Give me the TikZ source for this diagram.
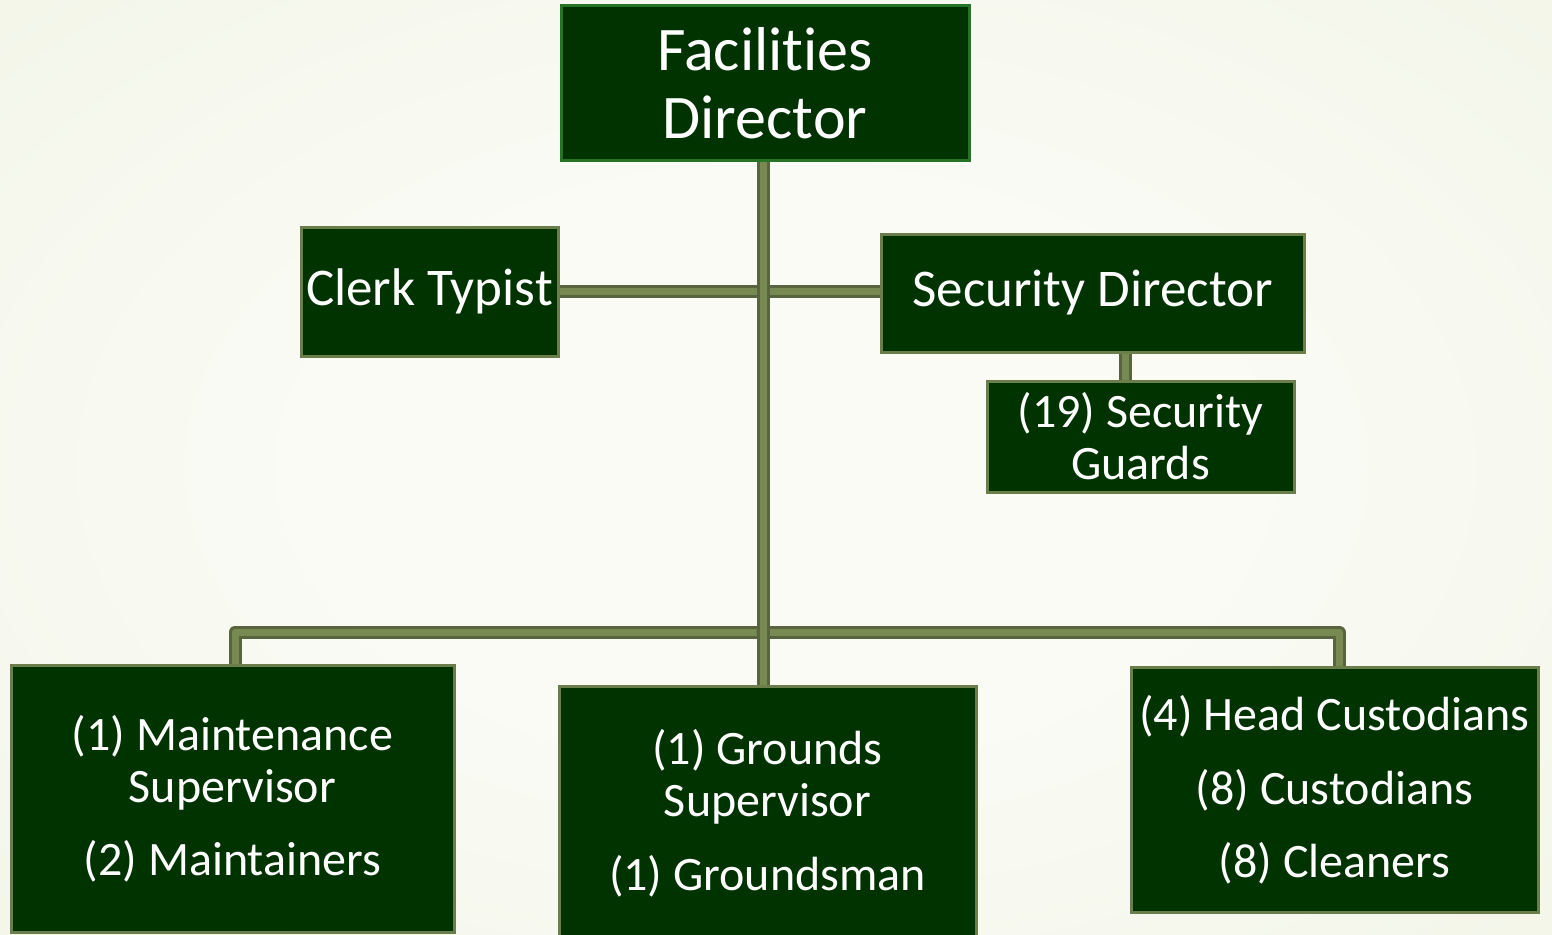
\documentclass[tikz,border=0pt]{standalone}
\usepackage{fontspec}
\setmainfont{Carlito}[Ligatures=NoCommon]
\pgfdeclarelayer{bg}
\pgfdeclarelayer{connlayer}
\pgfsetlayers{bg,connlayer,main}
\definecolor{boxfill}{HTML}{003300}
\definecolor{boxline}{HTML}{6B7D4B}
\definecolor{topline}{HTML}{267326}
\definecolor{connout}{HTML}{57643E}
\definecolor{connin}{HTML}{768A52}
\definecolor{bgin}{HTML}{FAFBF5}
\definecolor{bgmid}{HTML}{F6F8EE}
\definecolor{bgout}{HTML}{E3EACE}
\pgfdeclareradialshading{bgshade}{\pgfpoint{0bp}{0bp}}{color(0bp)=(bgin); color(10bp)=(bgin); color(20bp)=(bgmid); color(50bp)=(bgout); color(60bp)=(bgout)}
\tikzset{
  orgbox/.style={draw=boxline, line width=3pt, fill=boxfill, text=white,
    align=center, inner sep=0pt, anchor=center},
  conn/.style={draw=connout, line width=3pt, double=connin, double distance=7pt,
    line join=round, line cap=round},
  bigfont/.style={font=\fontsize{62}{68}\selectfont},
  midfont/.style={font=\fontsize{53}{58}\selectfont},
  smallfont/.style={font=\fontsize{48}{52}\selectfont},
}
\begin{document}
\begin{tikzpicture}[x=1pt,y=-1pt]
\useasboundingbox (0,0) rectangle (1552,934);
\clip (0,0) rectangle (1552,934);
\begin{pgfonlayer}{bg}
\shade[shading=bgshade] (-300,-190) rectangle (1852,1124);
\end{pgfonlayer}

\node[orgbox, draw=topline, bigfont, minimum width=408pt, minimum height=154pt] (fd) at (765,83) {Facilities\\Director};
\node[orgbox, midfont, minimum width=257pt, minimum height=129pt] (ct) at (429.5,291.5) {Clerk Typist};
\node[orgbox, midfont, minimum width=423pt, minimum height=118pt] (sd) at (1092.5,293) {Security Director};
\node[orgbox, smallfont, minimum width=307pt, minimum height=111pt] (gd) at (1140.5,436.5) {(19) Security\\Guards};
\node[orgbox, smallfont, minimum width=443pt, minimum height=267pt] (ms) at (232.5,798.5) {(1) Maintenance\\Supervisor\\[21pt](2) Maintainers};
\node[orgbox, smallfont, minimum width=417pt, minimum height=254pt] (gs) at (767.5,813) {(1) Grounds\\Supervisor\\[22pt](1) Groundsman};
\node[orgbox, smallfont, minimum width=407pt, minimum height=245pt] (rc) at (1334.5,789.5) {(4) Head Custodians\\[22pt](8) Custodians\\[21pt](8) Cleaners};

\coordinate (trunk) at (763,160);
\coordinate (bus) at (763,632);
\begin{pgfonlayer}{connlayer}
\draw[conn] (trunk) |- ([yshift=0.5pt]ct.east);
\draw[conn] (trunk) |- ([yshift=2pt]sd.west);
\draw[conn] (bus) -| ([xshift=2.5pt]ms.north);
\draw[conn] (bus) -| ([xshift=4.5pt]rc.north);
\draw[conn] (trunk) -- (trunk |- gs.north);
\draw[conn] ([xshift=32.5pt]sd.south) -- ([xshift=32.5pt]sd.south |- gd.north);
\end{pgfonlayer}
\end{tikzpicture}
\end{document}
